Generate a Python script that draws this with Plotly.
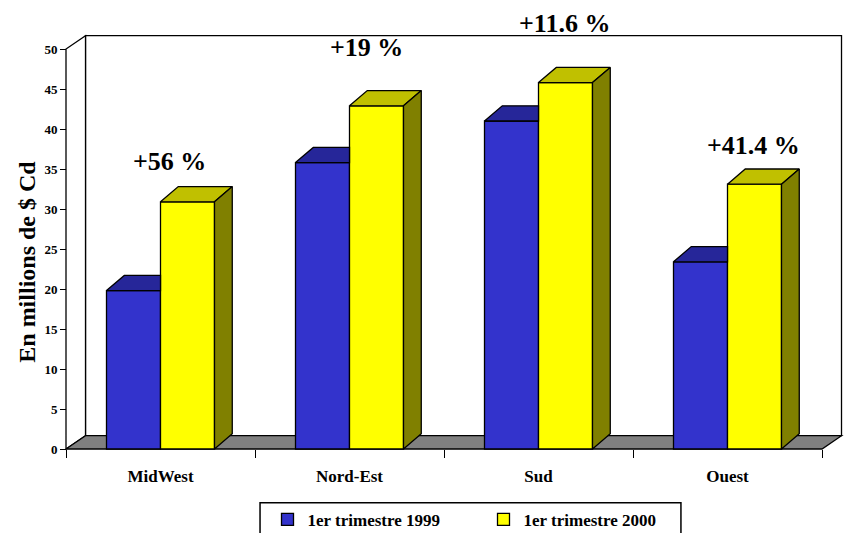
import plotly.graph_objects as go

# ---------------- data ----------------
categories = ["MidWest", "Nord-Est", "Sud", "Ouest"]
q1_1999 = [19.8, 35.8, 41.0, 23.4]
q1_2000 = [30.9, 42.9, 45.8, 33.1]
growth_labels = ["+56 %", "+19 %", "+11.6 %", "+41.4 %"]
series_names = ["1er trimestre 1999", "1er trimestre 2000"]
y_ticks = [0, 5, 10, 15, 20, 25, 30, 35, 40, 45, 50]

# ---------------- styling / geometry constants ----------------
FONT = "Liberation Serif"
BLUE_FRONT, BLUE_TOP = "#3333CC", "#262699"
YEL_FRONT, YEL_TOP, YEL_SIDE = "#FFFF00", "#C0C000", "#808000"
FLOOR = "#808080"
BAR_W = 0.2857          # width of one bar (category units)
BDX, BDY = 0.094, 1.9   # bar depth offsets (x units, value units)
WDX, WDY = 0.1032, 1.66 # wall / floor depth offsets
YMAX = 50
LW = 1.3
Y_RANGE = [-0.75, 52.375]
X_RANGE = [-0.53175, 3.62698]

# label placement (layout, not data)
lab_dx = [0.05, 0.09, 0.14, 0.135]
lab_dy = [5.0, 7.25, 7.4, 4.9]

xs = list(range(len(categories)))

fig = go.Figure()

# front faces as real bars
fig.add_trace(go.Bar(x=xs, y=q1_1999, width=BAR_W, offset=-BAR_W, name=series_names[0],
                     marker=dict(color=BLUE_FRONT, line=dict(color="black", width=LW)),
                     hoverinfo="skip"))
fig.add_trace(go.Bar(x=xs, y=q1_2000, width=BAR_W, offset=0, name=series_names[1],
                     marker=dict(color=YEL_FRONT, line=dict(color="black", width=LW)),
                     hoverinfo="skip"))

# 3D faces derived from the data
def poly_trace(px, py, color):
    return go.Scatter(x=px, y=py, mode="lines", fill="toself", fillcolor=color,
                      line=dict(color="black", width=LW), showlegend=False,
                      hoverinfo="skip", connectgaps=False)

bt_x, bt_y = [], []
for i, h in zip(xs, q1_1999):
    x0, x1 = i - BAR_W, i
    bt_x += [x0, x1, x1, x0 + BDX, x0, None]
    bt_y += [h, h, h + BDY, h + BDY, h, None]
fig.add_trace(poly_trace(bt_x, bt_y, BLUE_TOP))

yt_x, yt_y, ys_x, ys_y = [], [], [], []
for i, h in zip(xs, q1_2000):
    x1, x2 = i, i + BAR_W
    yt_x += [x1, x2, x2 + BDX, x1 + BDX, x1, None]
    yt_y += [h, h, h + BDY, h + BDY, h, None]
    ys_x += [x2, x2 + BDX, x2 + BDX, x2, x2, None]
    ys_y += [0, BDY, h + BDY, h, 0, None]
fig.add_trace(poly_trace(yt_x, yt_y, YEL_TOP))
fig.add_trace(poly_trace(ys_x, ys_y, YEL_SIDE))

# invisible trace for the boundary-tick axis
fig.add_trace(go.Scatter(x=[None], y=[None], xaxis="x2", showlegend=False, hoverinfo="skip"))

# walls and floor
n = len(categories)
xl, xr = -0.5, n - 0.5
shapes = [
    dict(type="rect", xref="x", yref="y", x0=xl + WDX, x1=xr + WDX, y0=WDY, y1=YMAX + WDY,
         fillcolor="white", line=dict(color="black", width=LW), layer="below"),
    dict(type="path", xref="x", yref="y",
         path=f"M{xl},0 L{xl},{YMAX} L{xl + WDX},{YMAX + WDY} L{xl + WDX},{WDY} Z",
         fillcolor="white", line=dict(color="black", width=LW), layer="below"),
    dict(type="path", xref="x", yref="y",
         path=f"M{xl},0 L{xr},0 L{xr + WDX},{WDY} L{xl + WDX},{WDY} Z",
         fillcolor=FLOOR, line=dict(color="black", width=LW), layer="below"),
    # legend frame
    dict(type="rect", xref="paper", yref="paper", x0=0.2545, x1=0.790, y0=-0.1122, y1=-0.22,
         fillcolor="rgba(0,0,0,0)", line=dict(color="black", width=1.5)),
]

def to_paper_y(v):
    return (v - Y_RANGE[0]) / (Y_RANGE[1] - Y_RANGE[0])

annotations = []
for i, t in enumerate(growth_labels):
    annotations.append(dict(x=xs[i] + lab_dx[i], y=to_paper_y(q1_2000[i] + lab_dy[i]),
                            xref="x", yref="paper", text=t, showarrow=False,
                            xanchor="center", yanchor="middle",
                            font=dict(family=FONT, size=26, color="black", weight="bold")))
annotations.append(dict(x=-0.0424, y=0.454, xref="paper", yref="paper",
                        text="En millions de $ Cd", textangle=-90, showarrow=False,
                        xanchor="center", yanchor="middle",
                        font=dict(family=FONT, size=24, color="black", weight="bold")))

fig.update_layout(
    width=848, height=533,
    margin=dict(l=60, r=2, t=30, b=78, autoexpand=False),
    paper_bgcolor="white", plot_bgcolor="rgba(0,0,0,0)",
    barmode="overlay",
    shapes=shapes, annotations=annotations,
    showlegend=True,
    legend=dict(orientation="h", x=0.264, y=-0.110, xanchor="left", yanchor="top",
                font=dict(family=FONT, size=17, color="black", weight="bold"),
                bgcolor="rgba(0,0,0,0)", borderwidth=0, entrywidth=171,
                traceorder="normal"),
    xaxis=dict(range=X_RANGE, anchor="free", position=0.014118,
               tickmode="array", tickvals=xs, ticktext=categories,
               ticks="outside", ticklen=12, tickcolor="rgba(0,0,0,0)",
               showline=False, showgrid=False, zeroline=False, automargin=False,
               tickfont=dict(family=FONT, size=17, color="black", weight="bold")),
    xaxis2=dict(range=X_RANGE, overlaying="x", anchor="free", position=0.014118, side="bottom",
                tickmode="array", tickvals=[i - 0.5 for i in range(n + 1)],
                ticks="outside", ticklen=8, tickwidth=1, tickcolor="black", automargin=False,
                showticklabels=False, showline=False, showgrid=False, zeroline=False),
    yaxis=dict(range=Y_RANGE, anchor="free", position=0.007634, automargin=False,
               tickmode="array", tickvals=y_ticks,
               ticks="outside", ticklen=6, tickwidth=1, tickcolor="black",
               showline=False, showgrid=False, zeroline=False,
               tickfont=dict(family=FONT, size=13, color="black", weight="bold")),
)

fig.write_html("out.html", config={"displayModeBar": False},
               post_script="document.body.style.margin='0';")
